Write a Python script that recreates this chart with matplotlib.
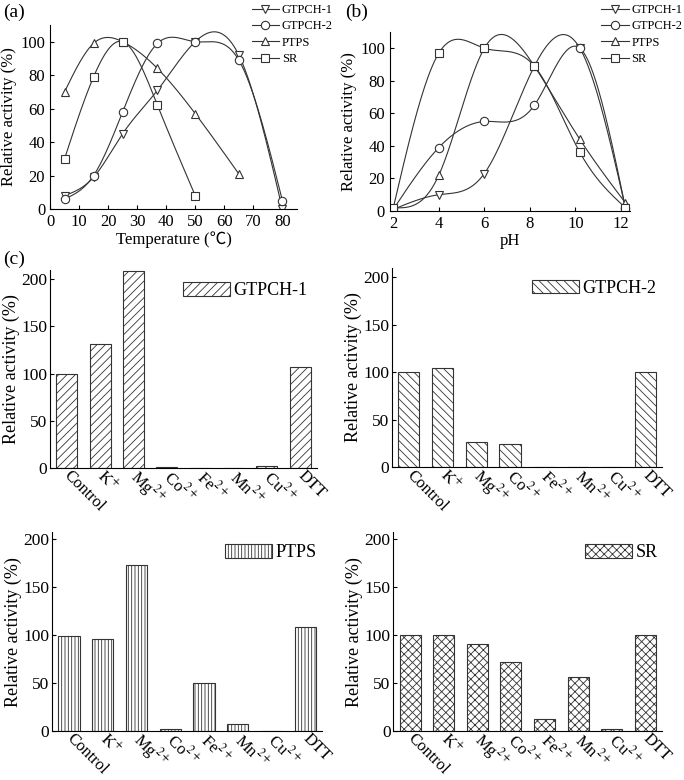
import numpy as np
import matplotlib
matplotlib.use('Agg')
import matplotlib.pyplot as plt

plt.rcParams['font.family'] = ['Liberation Serif', 'DejaVu Serif']
plt.rcParams['mathtext.fontset'] = 'stix'
plt.rcParams['hatch.linewidth'] = 0.6

# (a) temperature
temp = [5, 15, 25, 37, 50, 65, 80]
temp_gtpch1 = [8, 19, 45, 71, 100, 92, 0]
temp_gtpch2 = [6, 20, 58, 99, 100, 89, 5]
temp_ptps = [70, 99, 100, 84, 57, 21]
temp_sr = [30, 79, 100, 62, 8]

# (b) pH
ph = [2, 4, 6, 8.2, 10.2, 12.2]
ph_gtpch1 = [1, 10, 23, 89, 100, 2]
ph_gtpch2 = [1, 39, 55, 65, 100, 2]
ph_ptps = [2, 22, 100, 89, 44, 5]
ph_sr = [2, 97, 100, 89, 36, 2]

# (c) metal ions
ions = ['Control', r'K$^{+}$', r'Mg$^{2+}$', r'Co$^{2+}$', r'Fe$^{2+}$',
        r'Mn$^{2+}$', r'Cu$^{2+}$', 'DTT']
ion_gtpch1 = [100, 131, 209, 1.5, 0, 0.5, 2.5, 107]
ion_gtpch2 = [100, 104, 26, 24, 0.7, 0.7, 0, 100]
ion_ptps = [99, 96, 173, 2, 50, 7, 0, 108]
ion_sr = [100, 100, 91, 72, 12, 56, 2, 100]

names = ['GTPCH-1', 'GTPCH-2', 'PTPS', 'SR']
markers = ['v', 'o', '^', 's']
col = '#333333'


def spline(x, y, n=300):
    # natural cubic spline, only used to draw the smooth connecting line
    x = np.asarray(x, float)
    y = np.asarray(y, float)
    k = len(x)
    h = np.diff(x)
    A = np.zeros((k, k))
    b = np.zeros(k)
    A[0, 0] = A[-1, -1] = 1
    for i in range(1, k - 1):
        A[i, i - 1] = h[i - 1]
        A[i, i] = 2 * (h[i - 1] + h[i])
        A[i, i + 1] = h[i]
        b[i] = 6 * ((y[i + 1] - y[i]) / h[i] - (y[i] - y[i - 1]) / h[i - 1])
    M = np.linalg.solve(A, b)
    xs = np.linspace(x[0], x[-1], n)
    j = np.clip(np.searchsorted(x, xs) - 1, 0, k - 2)
    t0 = x[j + 1] - xs
    t1 = xs - x[j]
    hj = h[j]
    ys = (M[j] * t0 ** 3 + M[j + 1] * t1 ** 3) / (6 * hj) \
        + (y[j] / hj - M[j] * hj / 6) * t0 + (y[j + 1] / hj - M[j + 1] * hj / 6) * t1
    return xs, ys


def line_panel(ax, x, series):
    handles = []
    for ys, m, name in zip(series, markers, names):
        xx = x[:len(ys)]
        sx, sy = spline(xx, ys)
        ax.plot(sx, sy, color=col, lw=0.8)
        ax.plot(xx, ys, ls='none', marker=m, ms=6, mfc='white', mec=col, mew=0.8)
        h, = ax.plot([], [], color=col, lw=0.8, marker=m, ms=6, mfc='white', mec=col, mew=0.8)
        handles.append(h)
    ax.spines['top'].set_visible(False)
    ax.spines['right'].set_visible(False)
    ax.set_ylim(0, 110)
    ax.set_yticks([0, 20, 40, 60, 80, 100])
    ax.tick_params(direction='in', length=3, labelsize=12, width=0.8)
    ax.set_ylabel('Relative activity (%)', fontsize=12, labelpad=2)
    return handles


fig = plt.figure(figsize=(6.84, 7.8), dpi=100)

ax = fig.add_axes([0.0731, 0.732, 0.361, 0.236])
h = line_panel(ax, temp, [temp_gtpch1, temp_gtpch2, temp_ptps, temp_sr])
ax.set_xlim(0, 85)
ax.set_xticks(range(0, 81, 10))
ax.set_xlabel('Temperature (℃)', fontsize=12, labelpad=1,
              family=['Liberation Serif', 'Noto Sans CJK SC', 'DejaVu Serif'])
fig.legend(h, names, loc='upper left', bbox_to_anchor=(0.368, 0.995), frameon=False,
           fontsize=9, handlelength=2.2, handletextpad=0.2, labelspacing=0.35, borderpad=0,
           borderaxespad=0)
fig.text(0.005, 0.995, '(a)', fontsize=14, va='top')

ax = fig.add_axes([0.570, 0.7295, 0.351, 0.2295])
h = line_panel(ax, ph, [ph_gtpch1, ph_gtpch2, ph_ptps, ph_sr])
ax.set_xlim(1.85, 12.4)
ax.set_xticks(range(2, 13, 2))
ax.set_xlabel('pH', fontsize=12, labelpad=1)
fig.legend(h, names, loc='upper left', bbox_to_anchor=(0.879, 0.995), frameon=False,
           fontsize=9, handlelength=2.2, handletextpad=0.2, labelspacing=0.35, borderpad=0,
           borderaxespad=0)
fig.text(0.505, 0.995, '(b)', fontsize=14, va='top')

fig.text(0.005, 0.678, '(c)', fontsize=14, va='top')

bar_sets = [
    ([0.0731, 0.400, 0.390, 0.254], ion_gtpch1, '////', 'GTPCH-1', 210, 0.965),
    ([0.573, 0.401, 0.395, 0.256], ion_gtpch2, '\\\\\\\\', 'GTPCH-2', 210, 0.98),
    ([0.076, 0.0628, 0.395, 0.255], ion_ptps, '|||||', 'PTPS', 207, 0.98),
    ([0.575, 0.0628, 0.393, 0.255], ion_sr, 'xxxx', 'SR', 207, 0.985),
]
for pos, vals, hatch, name, top, lx in bar_sets:
    ax = fig.add_axes(pos)
    ax.bar(np.arange(len(ions)), vals, width=0.63, color='white', edgecolor=col,
           linewidth=0.8, hatch=hatch, label=name)
    ax.set_xlim(-0.5, 7.5)
    ax.set_ylim(0, top)
    ax.set_yticks([0, 50, 100, 150, 200])
    ax.set_xticks(np.arange(len(ions)))
    ax.set_xticklabels(ions, rotation=-45, ha='left', va='center', rotation_mode='anchor',
                       fontsize=12)
    ax.tick_params(axis='x', length=0, pad=4)
    ax.tick_params(axis='y', direction='in', length=3, labelsize=12.5, width=0.8, pad=2)
    ax.spines['top'].set_visible(False)
    ax.spines['right'].set_visible(False)
    ax.set_ylabel('Relative activity (%)', fontsize=13, labelpad=1)
    ax.legend(loc='upper right', bbox_to_anchor=(lx, 0.94), frameon=False, fontsize=13,
              handlelength=2.6, handleheight=0.8, handletextpad=0.2, borderpad=0,
              borderaxespad=0)

fig.savefig('out.png', dpi=100)
